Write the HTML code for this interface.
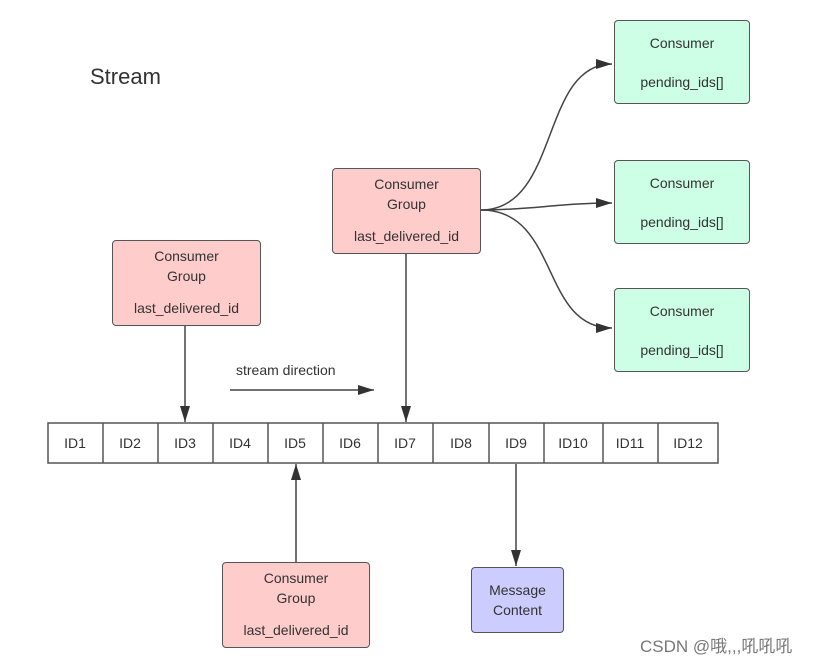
<!DOCTYPE html>
<html><head><meta charset="utf-8"><style>
body{margin:0;background:#fff;width:829px;height:662px;overflow:hidden;position:relative;font-family:"Liberation Sans","Noto Sans CJK SC",sans-serif;color:#333}
.b{position:absolute;box-sizing:border-box;border:1.5px solid #555;border-radius:4px;text-align:center;font-size:14px;line-height:20px}
.r{background:#ffcccc}.g{background:#ccffe6}.p{background:#ccccff}
.t{position:absolute}
</style></head><body>
<div class="t" style="left:90px;top:64px;font-size:22px">Stream</div>
<div class="t" style="left:236px;top:362px;font-size:14px">stream direction</div>

<div class="b r" style="left:112px;top:240px;width:149px;height:86px;padding-top:5px">Consumer<br>Group<div style="margin-top:12px">last_delivered_id</div></div>
<div class="b r" style="left:332px;top:168px;width:149px;height:86px;padding-top:5px">Consumer<br>Group<div style="margin-top:12px">last_delivered_id</div></div>
<div class="b r" style="left:222px;top:562px;width:148px;height:86px;padding-top:5px">Consumer<br>Group<div style="margin-top:12px">last_delivered_id</div></div>

<div class="b g" style="left:614px;top:20px;width:136px;height:84px;padding-top:12px">Consumer<div style="margin-top:19px">pending_ids[]</div></div>
<div class="b g" style="left:614px;top:160px;width:136px;height:84px;padding-top:12px">Consumer<div style="margin-top:19px">pending_ids[]</div></div>
<div class="b g" style="left:614px;top:288px;width:136px;height:84px;padding-top:12px">Consumer<div style="margin-top:19px">pending_ids[]</div></div>

<div class="b p" style="left:471px;top:567px;width:93px;height:66px;padding-top:12px">Message<br>Content</div>

<svg width="829" height="662" style="position:absolute;left:0;top:0">
<defs><marker id="a" markerWidth="16" markerHeight="10" refX="16" refY="5" orient="auto" markerUnits="userSpaceOnUse"><path d="M0,0L16,5L0,10z" fill="#333"/></marker></defs>
<g fill="#fff" stroke="#555" stroke-width="1.5">
<rect x="48" y="423" width="670" height="40"/>
</g>
<g stroke="#555" stroke-width="1.5">
<line x1="103" y1="423" x2="103" y2="463"/><line x1="158" y1="423" x2="158" y2="463"/><line x1="213" y1="423" x2="213" y2="463"/><line x1="268" y1="423" x2="268" y2="463"/><line x1="323" y1="423" x2="323" y2="463"/><line x1="378" y1="423" x2="378" y2="463"/><line x1="433" y1="423" x2="433" y2="463"/><line x1="489" y1="423" x2="489" y2="463"/><line x1="544" y1="423" x2="544" y2="463"/><line x1="603" y1="423" x2="603" y2="463"/><line x1="658" y1="423" x2="658" y2="463"/>
</g>
<g font-size="14" fill="#333" text-anchor="middle" font-family="Liberation Sans,sans-serif">
<text x="75" y="448">ID1</text><text x="130" y="448">ID2</text><text x="185" y="448">ID3</text><text x="240" y="448">ID4</text><text x="295" y="448">ID5</text><text x="350" y="448">ID6</text><text x="405" y="448">ID7</text><text x="461" y="448">ID8</text><text x="516" y="448">ID9</text><text x="573" y="448">ID10</text><text x="630" y="448">ID11</text><text x="688" y="448">ID12</text>
</g>
<g stroke="#444" stroke-width="1.5" fill="none" marker-end="url(#a)">
<line x1="185" y1="326" x2="185" y2="422"/>
<line x1="406" y1="254" x2="406" y2="422"/>
<line x1="296" y1="562" x2="296" y2="464"/>
<line x1="516" y1="464" x2="516" y2="566"/>
<line x1="230" y1="390" x2="374" y2="390"/>
<path d="M481,210 C560,210 540,64 612,64"/>
<path d="M481,210 C530,210 560,203 612,203"/>
<path d="M481,210 C560,210 540,328 612,328"/>
</g>
</svg>
<div class="t" style="left:640px;top:632px;font-size:17px;color:#777">CSDN @哦,,,吼吼吼</div>
</body></html>
